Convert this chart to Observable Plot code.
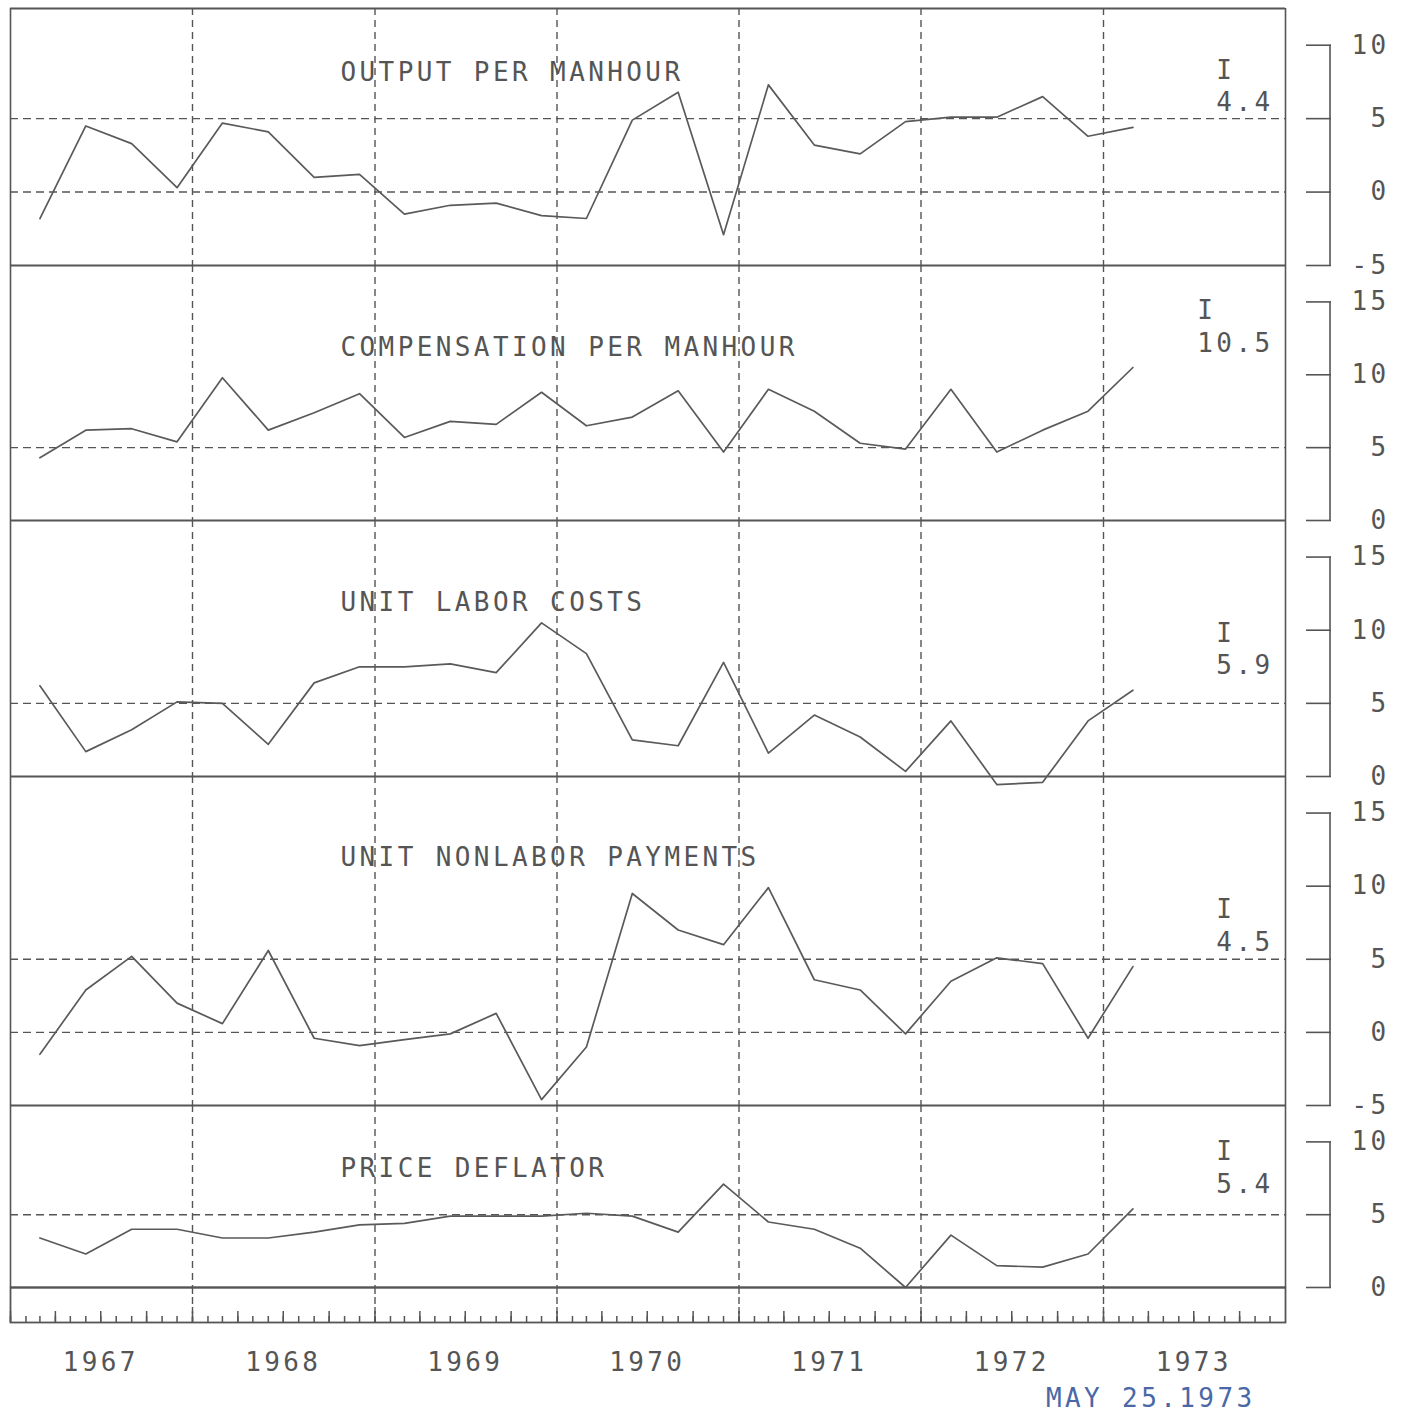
<!DOCTYPE html>
<html><head><meta charset="utf-8">
<script src="https://cdn.jsdelivr.net/npm/d3@7"></script>
<script src="https://cdn.jsdelivr.net/npm/@observablehq/plot@0.6"></script>
<style>
body{margin:0;background:#fff;}
#chart svg{display:block;overflow:visible;}
</style></head><body><div id="chart"></div>
<script>
// ---- data ----
const quarters = ["1967Q1","1967Q2","1967Q3","1967Q4","1968Q1","1968Q2","1968Q3","1968Q4",
  "1969Q1","1969Q2","1969Q3","1969Q4","1970Q1","1970Q2","1970Q3","1970Q4",
  "1971Q1","1971Q2","1971Q3","1971Q4","1972Q1","1972Q2","1972Q3","1972Q4","1973Q1"];
const outputPerManhour = [-1.8,4.5,3.3,0.3,4.7,4.1,1.0,1.2,-1.5,-0.9,-0.75,-1.6,-1.8,4.9,6.8,-2.9,7.3,3.2,2.6,4.8,5.1,5.1,6.5,3.8,4.4];
const compensationPerManhour = [4.3,6.2,6.3,5.4,9.8,6.2,7.4,8.7,5.7,6.8,6.6,8.8,6.5,7.1,8.9,4.7,9.0,7.5,5.3,4.9,9.0,4.7,6.2,7.5,10.5];
const unitLaborCosts = [6.2,1.7,3.2,5.1,5.0,2.2,6.4,7.5,7.5,7.7,7.1,10.5,8.4,2.5,2.1,7.8,1.6,4.2,2.7,0.35,3.8,-0.55,-0.4,3.8,5.9];
const unitNonlaborPayments = [-1.5,2.9,5.2,2.0,0.6,5.6,-0.4,-0.9,-0.5,-0.1,1.3,-4.6,-1.0,9.5,7.0,6.0,9.9,3.6,2.9,-0.1,3.5,5.1,4.7,-0.4,4.5];
const priceDeflator = [3.4,2.3,4.0,4.0,3.4,3.4,3.8,4.3,4.4,4.9,4.9,4.9,5.1,4.9,3.8,7.1,4.5,4.0,2.7,0.0,3.6,1.5,1.4,2.3,5.4];
const panelTitles = ["OUTPUT PER MANHOUR","COMPENSATION PER MANHOUR","UNIT LABOR COSTS","UNIT NONLABOR PAYMENTS","PRICE DEFLATOR"];
const panelSeries = [outputPerManhour, compensationPerManhour, unitLaborCosts, unitNonlaborPayments, priceDeflator];
const panelTicks = [[-5,0,5,10],[0,5,10,15],[0,5,10,15],[-5,0,5,10,15],[0,5,10]];
const yearLabels = [1967,1968,1969,1970,1971,1972,1973];
const dateStamp = "MAY 25.1973";

// ---- layout / style ----
const W = 1402, ML = 10, MR = 117;
const frameHeights = [257,255,256,329,182];
const titleDy = [64,82,82,81,63];
const INK = "#555";
const LINE = "#5a5a5a";
const FONT = "'DejaVu Sans Mono', monospace";

const toDate = q => new Date(Date.UTC(+q.slice(0,4), (+q[5]-1)*3 + 2, 1));
const xDomain = [new Date(Date.UTC(yearLabels[0],0,1)), new Date(Date.UTC(yearLabels[yearLabels.length-1]+1,0,1))];
const yearLines = yearLabels.slice(1).map(y => new Date(Date.UTC(y,0,1)));
const baseStyle = {fontFamily: FONT, fontSize: "26px", letterSpacing: "3.4px", color: INK, background: "transparent", overflow: "visible"};

const root = document.getElementById("chart");

panelSeries.forEach((vals, i) => {
  const ticks = panelTicks[i];
  const yMin = ticks[0], yMax = ticks[ticks.length-1] + 2.5;
  const data = quarters.map((q, k) => ({date: toDate(q), value: vals[k]}));
  const last = data[data.length-1];
  const lbl = last.value.toFixed(1);
  const mt = i === 0 ? 8 : 0;
  const dashY = [0,5].filter(v => v > yMin);
  const chart = Plot.plot({
    width: W, height: frameHeights[i] + mt,
    marginLeft: ML, marginRight: MR, marginTop: mt, marginBottom: 0,
    style: baseStyle,
    x: {type: "utc", domain: xDomain, axis: null},
    y: {domain: [yMin, yMax], axis: null},
    marks: [
      Plot.ruleX(yearLines, {stroke: INK, strokeWidth: 1.4, strokeDasharray: "7,5"}),
      Plot.ruleY(dashY, {stroke: INK, strokeWidth: 1.4, strokeDasharray: "8,5"}),
      Plot.ruleY(i === 0 ? [yMin, yMax] : [yMin], {stroke: INK, strokeWidth: 1.8}),
      Plot.ruleX(xDomain, {stroke: INK, strokeWidth: 1.6}),
      Plot.lineY(data, {x: "date", y: "value", stroke: LINE, strokeWidth: 1.7}),
      Plot.axisY({anchor: "right", label: null, ticks, tickSize: 25, dx: 20, tickFormat: () => "", stroke: INK, strokeWidth: 1.6}),
      Plot.text(ticks, {y: d => d, text: d => String(d), frameAnchor: "right", dx: 104, textAnchor: "end", fill: INK}),
      Plot.text([panelTitles[i]], {frameAnchor: "top-left", dx: 330, dy: titleDy[i], textAnchor: "start", lineAnchor: "middle", fill: INK}),
      Plot.text([last], {y: "value", frameAnchor: "right", dx: -12, dy: -16, textAnchor: "end", lineAnchor: "bottom",
        lineHeight: 1.25, fill: INK, text: () => "I" + "\u00a0".repeat(lbl.length - 1) + "\n" + lbl})
    ]
  });
  const ys = chart.scale("y");
  d3.select(chart).append("line")
    .attr("x1", W - MR + 45).attr("x2", W - MR + 45)
    .attr("y1", ys.apply(ticks[ticks.length-1])).attr("y2", ys.apply(ticks[0]))
    .attr("stroke", INK).attr("stroke-width", 1.6);
  root.appendChild(chart);
});

// bottom time strip
const months = d3.utcMonth.range(xDomain[0], xDomain[1]);
const quarterTicks = d3.utcMonth.every(3).range(xDomain[0], xDomain[1]);
const strip = Plot.plot({
  width: W, height: 128,
  marginLeft: ML, marginRight: MR, marginTop: 0, marginBottom: 93,
  style: baseStyle,
  x: {type: "utc", domain: xDomain, axis: null},
  marks: [
    Plot.ruleX(months, {stroke: INK, strokeWidth: 1.5, insetTop: 29}),
    Plot.ruleX(quarterTicks, {stroke: INK, strokeWidth: 1.5, insetTop: 24}),
    Plot.ruleX(yearLines, {stroke: INK, strokeWidth: 1.4, strokeDasharray: "7,3"}),
    Plot.frame({stroke: INK, strokeWidth: 1.8}),
    Plot.text(yearLabels, {x: y => new Date(Date.UTC(y,6,1)), text: d => String(d), frameAnchor: "bottom", dy: 40, lineAnchor: "middle", fill: INK}),
    Plot.text([dateStamp], {frameAnchor: "bottom-right", dx: -30, dy: 76, textAnchor: "end", lineAnchor: "middle", fill: "#4a68a6"})
  ]
});
root.appendChild(strip);
</script></body></html>
